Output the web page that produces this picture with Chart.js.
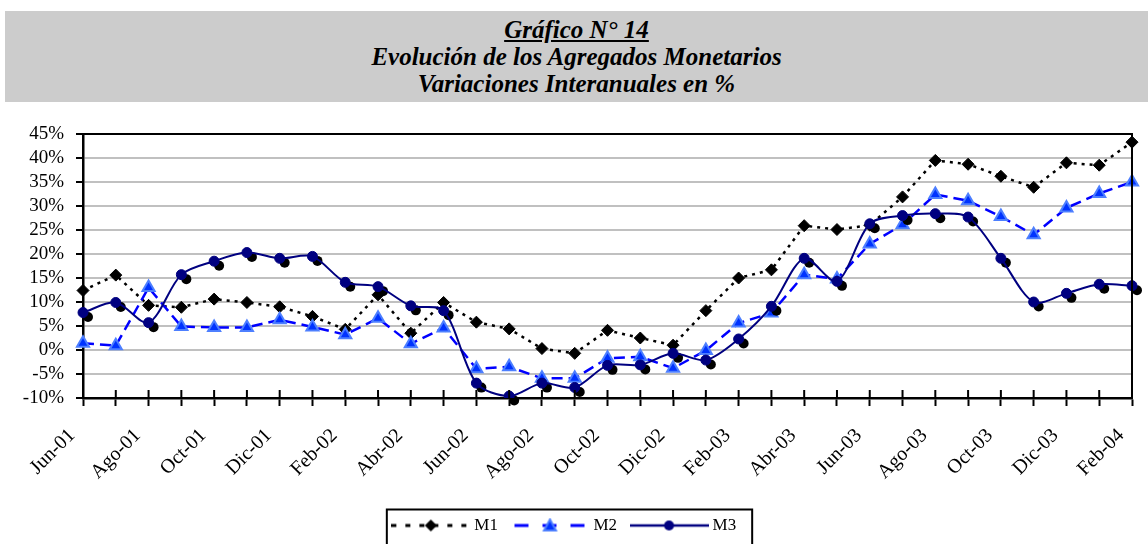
<!DOCTYPE html>
<html>
<head>
<meta charset="utf-8">
<script src="https://cdn.jsdelivr.net/npm/chart.js@4"></script>
<style>
  body { margin: 0; background: #fff; }
  #wrap { position: relative; width: 1148px; height: 544px; overflow: hidden; }
  #chart { position: absolute; left: 0; top: 0; }
  #title {
    position: absolute; left: 5px; top: 11px; width: 1143px; height: 91px;
    box-sizing: border-box; padding-top: 5px;
    background: #cccccc; text-align: center;
    font-family: 'Liberation Serif', 'Times New Roman', serif;
    font-weight: bold; font-style: italic; font-size: 25px; line-height: 27px;
  }
</style>
</head>
<body>
<div id="wrap">
  <canvas id="chart" width="1148" height="544"></canvas>
  <div id="title"><u>Gráfico N° 14</u><br>Evolución de los Agregados Monetarios<br>Variaciones Interanuales en %</div>
</div>
<script>
// months, one point each
const months = ['Jun-01','Jul-01','Ago-01','Sep-01','Oct-01','Nov-01','Dic-01','Ene-02','Feb-02','Mar-02','Abr-02',
  'May-02','Jun-02','Jul-02','Ago-02','Sep-02','Oct-02','Nov-02','Dic-02','Ene-03','Feb-03','Mar-03','Abr-03',
  'May-03','Jun-03','Jul-03','Ago-03','Sep-03','Oct-03','Nov-03','Dic-03','Ene-04','Feb-04'];

const m1 = [12.4, 15.6, 9.3, 8.9, 10.6, 9.9, 9.0, 7.0, 4.3, 11.5, 3.5, 9.9, 5.8, 4.4, 0.3, -0.7, 4.1,
  2.5, 1.0, 8.2, 15.0, 16.7, 25.9, 25.1, 26.0, 31.9, 39.5, 38.7, 36.2, 33.9, 39.0, 38.5, 43.3];
const m2 = [1.4, 0.9, 13.0, 4.9, 4.7, 4.7, 6.3, 4.8, 3.2, 6.6, 1.3, 4.6, -3.9, -3.5, -5.9, -5.9, -1.7,
  -1.4, -3.8, -0.1, 5.6, 7.7, 15.7, 14.8, 22.1, 26.1, 32.4, 31.1, 27.8, 24.0, 29.6, 32.6, 35.0];
const m3 = [7.8, 9.9, 5.7, 15.7, 18.5, 20.3, 19.1, 19.5, 14.1, 13.2, 9.2, 8.2, -6.9, -9.6, -6.9, -7.8, -3.2,
  -3.1, -0.7, -2.1, 2.3, 9.1, 19.1, 14.3, 26.3, 28.0, 28.4, 27.7, 19.1, 10.0, 11.8, 13.7, 13.4];

const yMin = -10, yMax = 45, yStep = 5;

Chart.defaults.font.family = "'Liberation Serif', 'Times New Roman', serif";
Chart.defaults.color = '#000';

// legend samples: line + marker
function makeIcon(kind) {
  const c = document.createElement('canvas');
  c.width = 79; c.height = 16;
  const g = c.getContext('2d');
  const mid = 8, cx = 39.5;
  g.beginPath();
  if (kind === 1) {
    g.strokeStyle = '#000'; g.lineWidth = 3; g.setLineDash([5, 9]);
    g.moveTo(0, mid); g.lineTo(79, mid); g.stroke();
    g.setLineDash([]);
    g.fillStyle = '#000';
    g.beginPath(); g.moveTo(cx - 6, mid); g.lineTo(cx, mid - 6); g.lineTo(cx + 6, mid); g.lineTo(cx, mid + 6); g.closePath(); g.fill();
  } else if (kind === 2) {
    g.strokeStyle = '#0000ff'; g.lineWidth = 3; g.setLineDash([14, 14]); g.lineDashOffset = -4;
    g.moveTo(0, mid); g.lineTo(79, mid); g.stroke();
    g.setLineDash([]);
    g.fillStyle = '#0033ff'; g.strokeStyle = '#4d7fff'; g.lineWidth = 2;
    g.beginPath(); g.moveTo(cx, mid - 6); g.lineTo(cx + 6, mid + 5); g.lineTo(cx - 6, mid + 5); g.closePath(); g.fill(); g.stroke();
  } else {
    g.strokeStyle = '#000080'; g.lineWidth = 2.5;
    g.moveTo(0, mid); g.lineTo(79, mid); g.stroke();
    g.fillStyle = '#000080';
    g.beginPath(); g.arc(cx, mid, 5, 0, Math.PI * 2); g.fill();
  }
  return c;
}
const icons = [makeIcon(1), makeIcon(2), makeIcon(3)];

// black offset shadow under the M3 markers
const m3Shadow = {
  id: 'm3Shadow',
  beforeDatasetDraw(chart, args) {
    if (args.index !== 2) return;
    const ctx = chart.ctx;
    ctx.save();
    ctx.fillStyle = '#000';
    args.meta.data.forEach(p => {
      ctx.beginPath();
      ctx.arc(p.x + 5, p.y + 4.5, 5, 0, Math.PI * 2);
      ctx.fill();
    });
    ctx.restore();
  }
};

// top/right frame, inner half of the x ticks, legend box
const frame = {
  id: 'frame',
  afterDraw(chart) {
    const ctx = chart.ctx, a = chart.chartArea, x = chart.scales.x;
    ctx.save();
    ctx.strokeStyle = '#000';
    ctx.lineWidth = 2;
    ctx.beginPath();
    ctx.moveTo(a.left, a.top); ctx.lineTo(a.right, a.top); ctx.lineTo(a.right, a.bottom);
    ctx.stroke();
    ctx.beginPath();
    for (let i = 0; i < months.length; i++) {
      const px = x.getPixelForTick(i);
      ctx.moveTo(px, a.bottom - 8); ctx.lineTo(px, a.bottom);
    }
    ctx.stroke();
    const hb = chart.legend.legendHitBoxes;
    if (hb && hb.length) {
      const f = hb[0], l = hb[hb.length - 1];
      const left = f.left - 9, right = l.left + l.width + 16;
      const top = f.top + f.height / 2 - 16;
      ctx.strokeRect(left, top, right - left, 60);
    }
    ctx.restore();
  }
};

new Chart(document.getElementById('chart'), {
  type: 'line',
  data: {
    labels: months,
    datasets: [
      {
        label: 'M1', data: m1, order: 2,
        borderColor: '#000', borderWidth: 2.5, borderDash: [3, 5],
        pointStyle: 'rectRot', pointRadius: 6, pointBackgroundColor: '#000', pointBorderColor: '#000', pointBorderWidth: 1,
        tension: 0
      },
      {
        label: 'M2', data: m2, order: 1,
        borderColor: '#0000ff', borderWidth: 2.5, borderDash: [11, 6],
        pointStyle: 'triangle', pointRadius: 7, pointBackgroundColor: '#0033ff', pointBorderColor: '#4d7fff', pointBorderWidth: 2,
        tension: 0
      },
      {
        label: 'M3', data: m3, order: 0,
        borderColor: '#000080', borderWidth: 2,
        pointStyle: 'circle', pointRadius: 5, pointBackgroundColor: '#000080', pointBorderColor: '#000080', pointBorderWidth: 1,
        tension: 0.3
      }
    ]
  },
  options: {
    responsive: false,
    animation: false,
    layout: { padding: { top: 134, left: 0, right: 16, bottom: 0 } },
    plugins: {
      title: { display: false },
      tooltip: { enabled: false },
      legend: {
        position: 'bottom',
        labels: {
          usePointStyle: true,
          pointStyleWidth: 70,
          padding: 17,
          font: { size: 17 },
          color: '#000',
          sort: (a, b) => a.datasetIndex - b.datasetIndex,
          generateLabels(chart) {
            const items = Chart.defaults.plugins.legend.labels.generateLabels(chart);
            items.forEach(it => { it.pointStyle = icons[it.datasetIndex]; });
            return items;
          }
        }
      }
    },
    scales: {
      x: {
        offset: false,
        grid: { drawOnChartArea: false, drawTicks: true, tickLength: 8, tickColor: '#000', tickWidth: 2 },
        border: { color: '#000', width: 2.5 },
        ticks: {
          autoSkip: false, minRotation: 45, maxRotation: 45, padding: 18, labelOffset: -11,
          font: { size: 20 }, color: '#000',
          callback: (v, i) => (i % 2 === 0 ? months[i] : '')
        },
        afterFit: s => { s.height = 102; s.paddingLeft = 0; s.paddingRight = 0; }
      },
      y: {
        min: yMin, max: yMax,
        grid: {
          color: '#c0c0c0', lineWidth: 2,
          tickColor: '#000', tickWidth: 2, tickLength: 7
        },
        border: { color: '#000', width: 2.5 },
        ticks: {
          stepSize: yStep, padding: 12, autoSkip: false,
          font: { size: 19 }, color: '#000',
          callback: v => v + '%'
        },
        afterFit: s => { s.width = 83; }
      }
    }
  },
  plugins: [m3Shadow, frame]
});
</script>
</body>
</html>
